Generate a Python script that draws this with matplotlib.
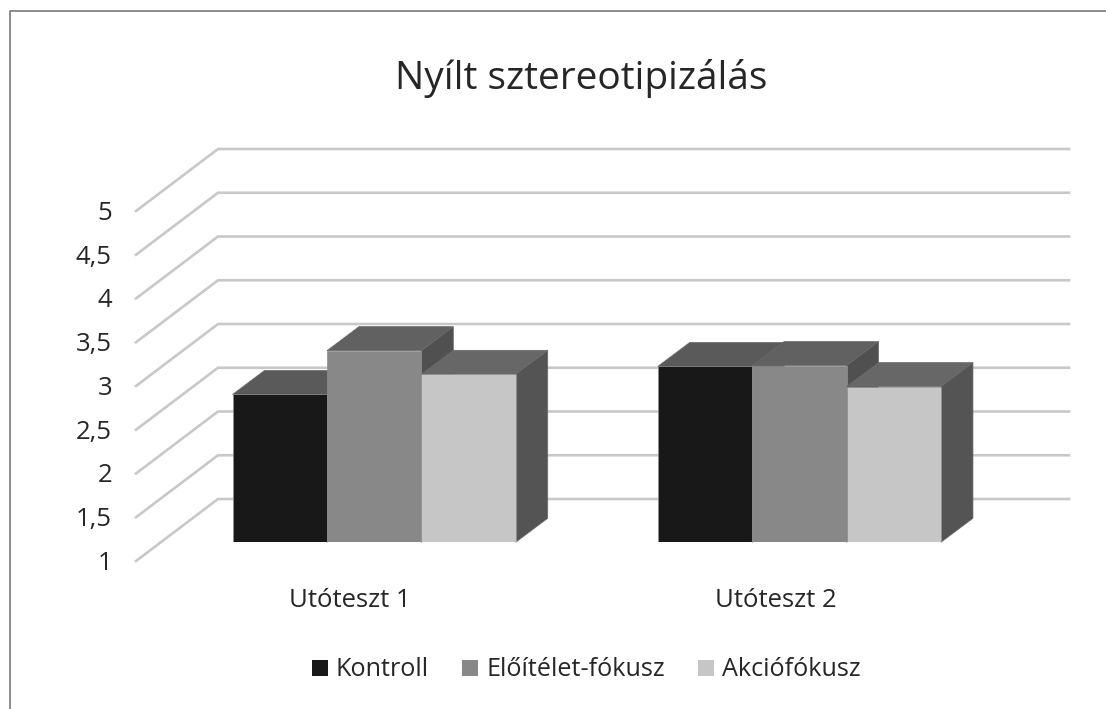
import matplotlib
matplotlib.use('Agg')
import matplotlib.pyplot as plt
from matplotlib.lines import Line2D
from matplotlib.patches import Patch, Polygon

plt.rcParams['font.family'] = ['Open Sans', 'DejaVu Sans']

# Data
title = 'Nyílt sztereotipizálás'
categories = ['Utóteszt 1', 'Utóteszt 2']
series = ['Kontroll', 'Előítélet-fókusz', 'Akciófókusz']
kontroll = [2.69, 3.01]
eloitelet = [3.19, 3.02]
akcio = [2.92, 2.78]
ticks = [1, 1.5, 2, 2.5, 3, 3.5, 4, 4.5, 5]
tick_labels = ['1', '1,5', '2', '2,5', '3', '3,5', '4', '4,5', '5']

front_colors = ['#181818', '#888888', '#c6c6c6']
top_colors = ['#5a5a5a', '#616161', '#676767']
side_colors = ['#4a4a4a', '#505050', '#545454']
text_color = '#262626'
grid_color = '#c8c8c8'

W, H = 1106, 709
fig = plt.figure(figsize=(W / 100, H / 100), dpi=100)
# the axes is the front plane of the bars
left, right, bottom, top = 161.5, 1012, 542.3, 192.3
ax = fig.add_axes([left / W, 1 - bottom / H, (right - left) / W, (bottom - top) / H])
ax.set_xlim(-0.5, 1.5)
ax.set_ylim(1, 5)
ax.axis('off')

px = 2 / (right - left)
py = 4 / (bottom - top)

# picture border
fig.add_artist(Line2D([9.5 / W, 9.5 / W, 1], [0, 1 - 10.5 / H, 1 - 10.5 / H],
                      color='#6e6e6e', lw=1.1))

# grid lines, from the front of the floor to the back wall and across
for v in ticks:
    ax.plot([-0.5 - 25.5 * px, -0.5 + 56.5 * px, 1.5 + 57 * px],
            [v - 18.7 * py, v + 43.3 * py, v + 43.3 * py],
            color=grid_color, lw=1.9, clip_on=False, zorder=1, solid_joinstyle='miter')

# bars
bar_w = 94.4 * px
dx, dy = 32 * px, 24 * py
values = [kontroll, eloitelet, akcio]
for c in range(len(categories)):
    for s in range(len(series)):
        v = values[s][c]
        x0 = c + (s - 1.5) * bar_w
        x1 = x0 + bar_w
        z = 2 + s
        ax.add_patch(Polygon([(x0, v), (x0 + dx, v + dy), (x1 + dx, v + dy), (x1, v)],
                             fc=top_colors[s], ec='#6a6a6a', lw=0.5, zorder=z, clip_on=False))
        ax.add_patch(Polygon([(x1, 1), (x1 + dx, 1 + dy), (x1 + dx, v + dy), (x1, v)],
                             fc=side_colors[s], ec='#6a6a6a', lw=0.5, zorder=z, clip_on=False))
        ax.bar(x0, v - 1, bar_w, bottom=1, align='edge', color=front_colors[s],
               edgecolor='#8f8f8f', lw=0.5, zorder=z + 0.5)

# value labels
for v, lab in zip(ticks, tick_labels):
    ax.annotate(lab, (-0.5, v), xytext=(112 - left, -21), textcoords='offset pixels',
                ha='right', va='center', fontsize=18.5, color=text_color, annotation_clip=False)

# category labels
for c, lab in enumerate(categories):
    ax.annotate(lab, (c, 1), xytext=(-24, -58), textcoords='offset pixels',
                ha='center', va='center', fontsize=18.5, color=text_color, annotation_clip=False)

fig.text(581.5 / W, 1 - 78.5 / H, title, ha='center', va='center', fontsize=28, color=text_color)

handles = [Patch(fc=col, ec='none', label=s) for col, s in zip(front_colors, series)]
fig.legend(handles=handles, loc='center', bbox_to_anchor=(586.5 / W, 1 - 670 / H), ncol=3,
           frameon=False, fontsize=18.1, labelcolor=text_color, handlelength=0.62,
           handleheight=0.62, handletextpad=0.33, columnspacing=1.33, borderpad=0)

fig.savefig('out.png', dpi=100)
